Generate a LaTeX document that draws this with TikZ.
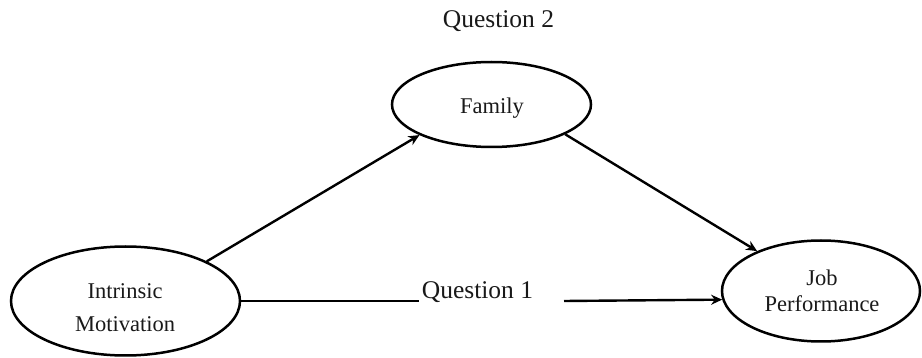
\documentclass[tikz,border=0pt]{standalone}
\usepackage{fontspec}
\setmainfont{Liberation Serif}
\usetikzlibrary{arrows.meta,shapes.geometric}
\begin{document}
\begin{tikzpicture}[x=1pt,y=-1pt,
  oval/.style={draw=black, line width=2.5pt, ellipse, inner sep=0pt},
  lbl/.style={align=center, inner sep=0pt, text=black!90},
  qlbl/.style={inner sep=0pt, text=black!90, font=\fontsize{25.5}{30}\selectfont},
  conn/.style={line width=2.4pt, draw=black},
  arr/.style={conn, -{Stealth[length=11pt,width=10pt]}}]
\useasboundingbox (0,0) rectangle (922,358);
% ellipses
\node[oval, minimum width=229pt, minimum height=109pt] (IM) at (125.5,301) {};
\node[oval, minimum width=198pt, minimum height=101pt] (Job) at (821,291) {};
\node[oval, minimum width=199pt, minimum height=85pt] (Fam) at (491.5,104.5) {};
% texts
\node[lbl, font=\fontsize{22.5}{33}\selectfont] (IMt) at (125,307.5) {Intrinsic\\Motivation};
\node[lbl, font=\fontsize{22.5}{26}\selectfont] (Jobt) at (822,290.5) {Job\\Performance};
\node[lbl, font=\fontsize{22.5}{26}\selectfont] (Famt) at (492,108) {Family};
\node[qlbl, anchor=base] (Q2) at (498.5,28) {Question 2};
\node[qlbl, anchor=base] (Q1) at (477.5,299) {Question 1};
% connectors
\coordinate (q1l) at (419,301);
\coordinate (q1r) at (564,301);
\draw[conn] (IM.east) -- (q1l);
\draw[arr] (q1r) -- (Job.185.5);
\draw[arr] (IM.26) -- (Fam.203.8);
\draw[arr] (Fam.338.8) -- (Job.148.2);
\end{tikzpicture}
\end{document}
